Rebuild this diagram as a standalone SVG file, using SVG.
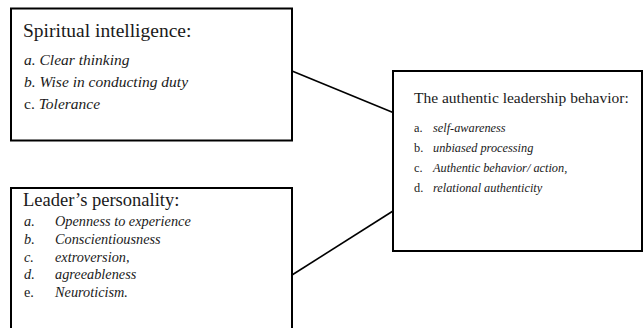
<svg xmlns="http://www.w3.org/2000/svg" width="644" height="328" viewBox="0 0 644 328">
<style>
.box{fill:#fff;stroke:#000;stroke-width:2}
.conn{stroke:#000;stroke-width:1.6;fill:none}
text{font-family:"Liberation Serif","Times New Roman",serif;fill:#1a1a1a}
.t1{font-size:19.5px}
.i1{font-size:15.5px;font-style:italic}
.i2{font-size:14.3px;font-style:italic}
.t3{font-size:15.5px}
.i3{font-size:12.3px;font-style:italic}
.up{font-style:normal}
</style>
<rect width="644" height="328" fill="#fff"/>
<g id="connectors">
<line class="conn" x1="292" y1="71" x2="393" y2="112.5"/>
<line class="conn" x1="292" y1="275" x2="393" y2="211"/>
</g>
<g id="spiritual">
<rect class="box" x="11" y="8.5" width="281" height="132"/>
<text class="t1" x="23" y="37">Spiritual intelligence:</text>
<text class="i1" x="24" y="64.5">a. Clear thinking</text>
<text class="i1" x="24" y="86.5">b. Wise in conducting duty</text>
<text class="i1" x="24" y="108.5"><tspan class="up">c.</tspan> Tolerance</text>
</g>
<g id="personality">
<rect class="box" x="11" y="188" width="281" height="150"/>
<text class="t1" x="23" y="206" style="font-size:18.5px">Leader’s personality:</text>
<text class="i2" x="24" y="226">a.</text><text class="i2" x="55" y="226">Openness to experience</text>
<text class="i2" x="24" y="244">b.</text><text class="i2" x="55" y="244">Conscientiousness</text>
<text class="i2" x="24" y="262">c.</text><text class="i2" x="55" y="262">extroversion,</text>
<text class="i2" x="24" y="279">d.</text><text class="i2" x="55" y="279">agreeableness</text>
<text class="i2 up" x="24" y="297">e.</text><text class="i2" x="55" y="297">Neuroticism.</text>
</g>
<g id="authentic">
<rect class="box" x="393" y="71" width="249" height="180"/>
<text class="t3" x="414" y="103">The authentic leadership behavior:</text>
<text class="i3 up" x="414" y="132">a.</text><text class="i3" x="433" y="132">self-awareness</text>
<text class="i3 up" x="414" y="152">b.</text><text class="i3" x="433" y="152">unbiased processing</text>
<text class="i3 up" x="414" y="172">c.</text><text class="i3" x="433" y="172">Authentic behavior/ action<tspan class="up">,</tspan></text>
<text class="i3 up" x="414" y="192">d.</text><text class="i3" x="433" y="192">relational authenticity</text>
</g>
</svg>
